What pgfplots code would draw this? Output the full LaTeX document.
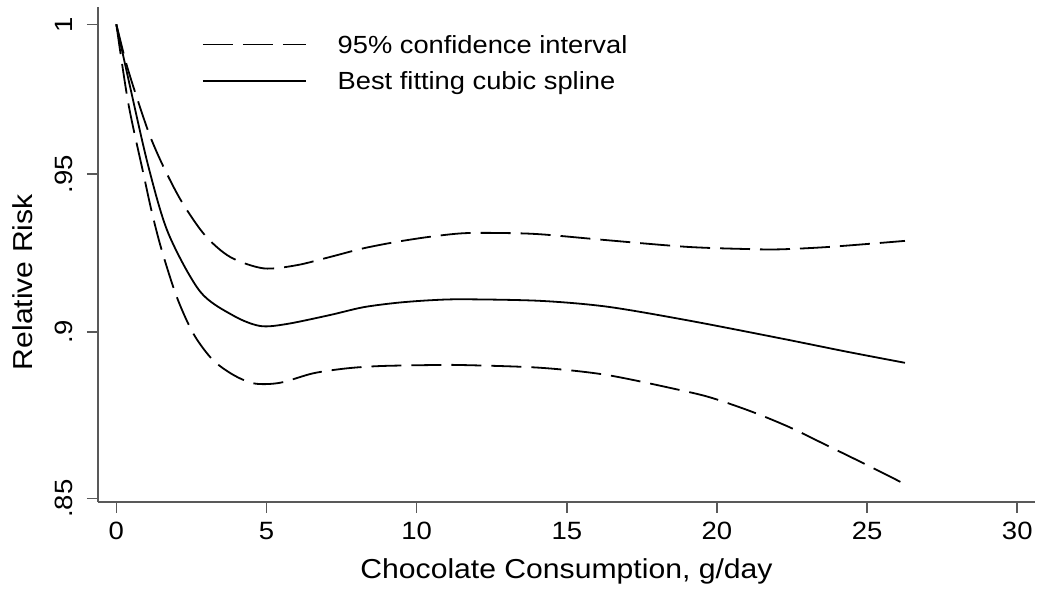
\documentclass[border=0pt]{standalone}
\usepackage{pgfplots}
\pgfplotsset{compat=1.18}
\usepackage{fontspec}
\setmainfont[FakeStretch=1.1]{Liberation Sans}
\begin{document}
\begin{tikzpicture}
\path[use as bounding box] (0,0) rectangle (1050pt,594pt);
\begin{axis}[
  at={(98pt,92pt)}, anchor=south west,
  scale only axis, width=937pt, height=495pt,
  xmin=-0.61, xmax=30.59,
  ymode=log, ymin=0.849, ymax=1.006,
  axis x line*=bottom, axis y line*=left,
  axis line style={draw=black!65, line width=1.6pt},
  tick style={draw=black!65, line width=1.6pt},
  tick align=outside, major tick length=11pt,
  xtick={0,5,10,15,20,25,30}, ytick={0.85,0.9,0.95,1},
  yticklabels={\textrm{.85},\textrm{.9},\textrm{.95},\textrm{1}},
  minor tick num=0, yminorticks=false, xminorticks=false,
  /pgf/number format/assume math mode=true,
  tick label style={font=\fontsize{25}{29}\selectfont, inner sep=0pt},
  xticklabel shift=9pt,
  yticklabel style={rotate=90, anchor=south},
  yticklabel shift=14pt,
  xlabel={Chocolate Consumption, g/day},
  ylabel={Relative Risk},
  label style={font=\fontsize{27.4}{32}\selectfont, inner sep=0pt},
  xlabel style={at={(axis description cs:0.5,0)}, anchor=base, yshift=-76pt},
  ylabel style={at={(axis description cs:-0.0704,0.444)}, anchor=base},
  legend style={draw=none, fill=none, inner sep=0pt, at={(axis description cs:0.1107,0.9434)}, anchor=north west,
    font=\fontsize{24.8}{29}\selectfont, row sep=17pt,
    nodes={inner sep=0pt},
    /tikz/every odd column/.append style={column sep=31pt}},
  legend cell align=left,
  legend image code/.code={\draw[#1] (0pt,0.5pt) -- (103pt,0.5pt);},
]
\addplot[black, line width=1.8pt, dash pattern=on 30pt off 10pt, smooth] coordinates {
(0,1.0000) (0.35,0.9860) (0.73,0.9738) (1.12,0.9625) (1.57,0.9524) (2.18,0.9410)
(2.95,0.9303) (3.79,0.9234) (4.90,0.9198) (6.01,0.9208) (7.12,0.9234) (8.22,0.9261)
(9.34,0.9282) (10.45,0.9298) (11.56,0.9309) (12.8,0.9310) (14.11,0.9306) (16.33,0.9287)
(19.00,0.9266) (20.99,0.9259) (22.10,0.9258) (23.77,0.9266) (26.26,0.9285)
};
\addlegendentry{95\% confidence interval}
\addplot[black, line width=1.8pt, dash pattern=on 30pt off 10pt, smooth, forget plot] coordinates {
(0,1.0000) (0.40,0.9733) (0.90,0.9502) (1.18,0.9378) (1.51,0.9256) (2.01,0.9109)
(2.56,0.8995) (3.20,0.8915) (3.90,0.8868) (4.60,0.8842) (5.45,0.8844) (6.56,0.8873)
(7.67,0.8888) (8.78,0.8895) (10.45,0.8898) (11.56,0.8898) (14.11,0.8890) (16.33,0.8868)
(18.88,0.8820) (19.88,0.8797) (21.16,0.8757) (22.38,0.8712) (23.60,0.8659) (24.82,0.8606)
(25.99,0.8554) (26.23,0.8542)
};
\addplot[black, line width=1.8pt, smooth] coordinates {
(0,1.0000) (0.46,0.9788) (1.07,0.9524) (1.73,0.9309) (2.79,0.9125) (3.90,0.9050)
(4.79,0.9018) (5.67,0.9024) (7.12,0.9052) (8.22,0.9076)
(9.34,0.9090) (10.45,0.9098) (11.56,0.9101) (14.11,0.9096) (16.33,0.9078) (19.00,0.9036)
(22.10,0.8980) (24.32,0.8939) (26.26,0.8905)
};
\addlegendentry{Best fitting cubic spline}
\end{axis}
\end{tikzpicture}
\end{document}
